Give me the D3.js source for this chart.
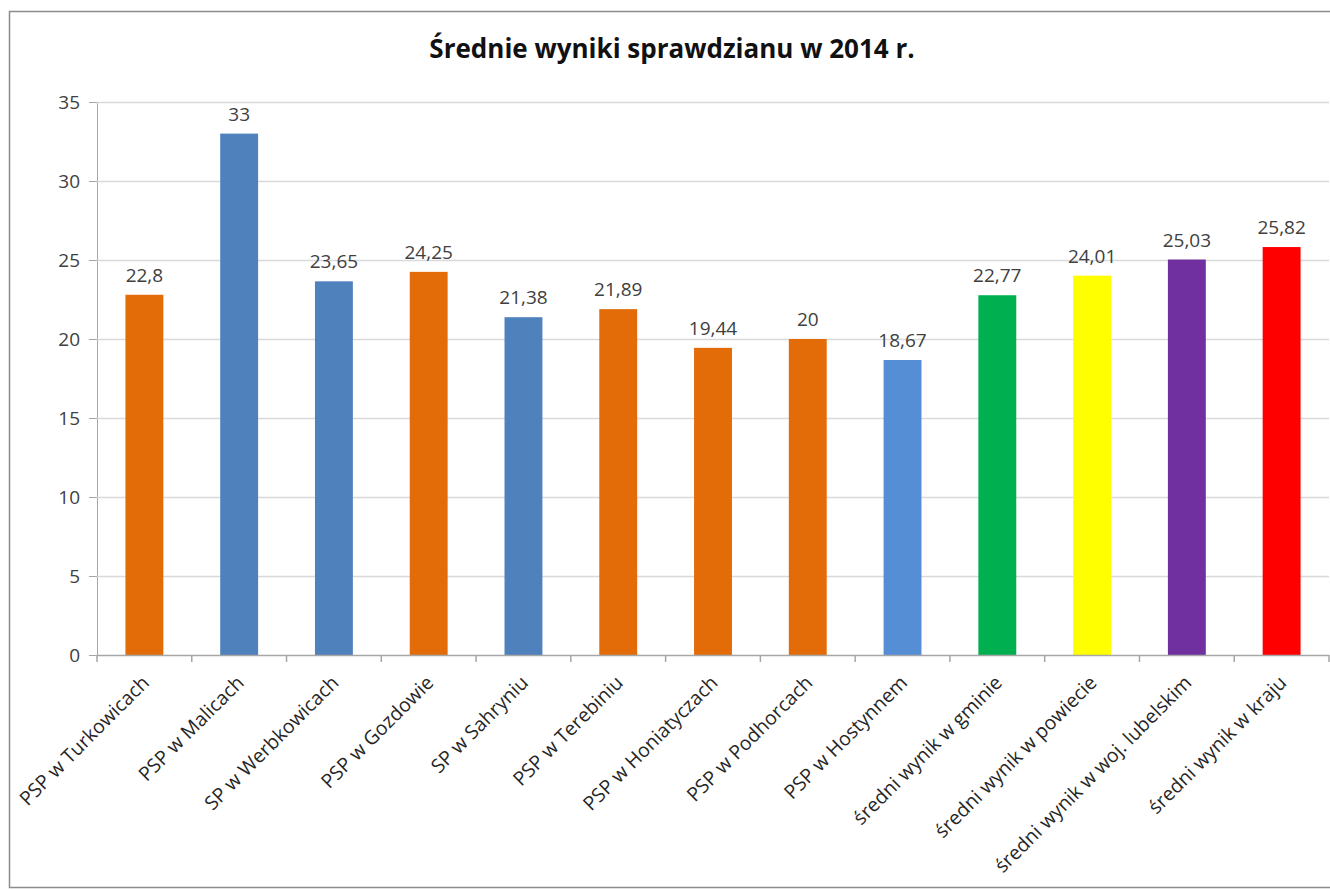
<!DOCTYPE html>
<meta charset="utf-8">
<head>
    <title>Średnie wyniki sprawdzianu w 2014 r.</title>
    <script src="https://d3js.org/d3.v7.min.js"></script>
    <style>
        body {
            margin: 0;
            background: #fff;
        }

        svg text {
            font-family: "Open Sans", "DejaVu Sans", sans-serif;
        }
    </style>
</head>
<body>
<div id="chart"></div>

<script>
    // data
    var schools = ["PSP w Turkowicach", "PSP w Malicach", "SP w Werbkowicach", "PSP w Gozdowie",
        "SP w Sahryniu", "PSP w Terebiniu", "PSP w Honiatyczach", "PSP w Podhorcach",
        "PSP w Hostynnem", "średni wynik w gminie", "średni wynik w powiecie",
        "średni wynik w woj. lubelskim", "średni wynik w kraju"];
    var scores = [22.8, 33, 23.65, 24.25, 21.38, 21.89, 19.44, 20, 18.67, 22.77, 24.01, 25.03, 25.82];
    var barColors = ["#E36C09", "#4F81BD", "#4F81BD", "#E36C09", "#4F81BD", "#E36C09", "#E36C09",
        "#E36C09", "#558ED5", "#00B050", "#FFFF00", "#7030A0", "#FF0000"];
    var yTicks = [0, 5, 10, 15, 20, 25, 30, 35];

    var width = 1330,
        height = 890;
    var margin = {top: 102, right: 1, bottom: 235, left: 97};

    var svg = d3.select("#chart")
        .append("svg")
        .attr("width", width)
        .attr("height", height);

    // chart frame
    svg.append("rect")
        .attr("x", 9.5)
        .attr("y", 11.5)
        .attr("width", width + 20)
        .attr("height", 876)
        .attr("fill", "#fff")
        .attr("stroke", "#8c8c8c")
        .attr("stroke-width", 1.5);

    svg.append("text")
        .attr("x", 672)
        .attr("y", 58)
        .attr("text-anchor", "middle")
        .style("font-weight", "bold")
        .style("font-size", "26px")
        .style("fill", "#111")
        .text("Średnie wyniki sprawdzianu w 2014 r.");

    var x = d3.scaleBand()
        .domain(schools)
        .range([margin.left, width - margin.right])
        .paddingInner(0.6)
        .paddingOuter(0.3);

    var y = d3.scaleLinear()
        .domain([0, 35])
        .range([height - margin.bottom, margin.top]);

    var plotRight = width - margin.right;

    // y axis
    var yAxis = svg.append("g")
        .attr("transform", "translate(" + margin.left + ",0)")
        .call(d3.axisLeft(y).tickValues(yTicks).tickSize(8).tickPadding(9));
    yAxis.select(".domain").attr("stroke", "#a6a6a6");
    yAxis.selectAll(".tick line").attr("stroke", "#a6a6a6");
    yAxis.selectAll(".tick text")
        .style("font-size", "19px")
        .style("fill", "#404040");

    // gridlines
    svg.append("g")
        .selectAll("line")
        .data(yTicks.filter(function (d) { return d > 0; }))
        .enter()
        .append("line")
        .attr("x1", margin.left)
        .attr("x2", plotRight)
        .attr("y1", function (d) { return y(d) + 0.5; })
        .attr("y2", function (d) { return y(d) + 0.5; })
        .attr("stroke", "#d9d9d9")
        .attr("stroke-width", 1.5);

    // bars
    svg.append("g")
        .selectAll("rect")
        .data(schools)
        .enter()
        .append("rect")
        .attr("x", function (d) { return x(d); })
        .attr("y", function (d, i) { return y(scores[i]); })
        .attr("width", x.bandwidth())
        .attr("height", function (d, i) { return y(0) - y(scores[i]); })
        .attr("fill", function (d, i) { return barColors[i]; });

    // value labels
    svg.append("g")
        .selectAll("text")
        .data(schools)
        .enter()
        .append("text")
        .attr("x", function (d) { return x(d) + x.bandwidth() / 2; })
        .attr("y", function (d, i) { return y(scores[i]) - 13; })
        .attr("text-anchor", "middle")
        .style("font-size", "19px")
        .style("fill", "#404040")
        .text(function (d, i) { return String(scores[i]).replace(".", ","); });

    // x axis, ticks on category boundaries
    var step = x.step();
    var bounds = d3.range(schools.length + 1);
    var xAxis = svg.append("g");
    xAxis.append("line")
        .attr("x1", margin.left)
        .attr("x2", plotRight)
        .attr("y1", y(0) + 0.5)
        .attr("y2", y(0) + 0.5)
        .attr("stroke", "#a6a6a6")
        .attr("stroke-width", 1.5);
    xAxis.selectAll(".bt")
        .data(bounds)
        .enter()
        .append("line")
        .attr("x1", function (d) { return margin.left + d * step; })
        .attr("x2", function (d) { return margin.left + d * step; })
        .attr("y1", y(0))
        .attr("y2", y(0) + 7)
        .attr("stroke", "#a6a6a6")
        .attr("stroke-width", 1.5);

    xAxis.selectAll(".lbl")
        .data(schools)
        .enter()
        .append("text")
        .attr("transform", function (d) {
            var cx = x(d) + x.bandwidth() / 2 + 6;
            return "translate(" + cx + "," + (y(0) + 29) + ") rotate(-45)";
        })
        .attr("text-anchor", "end")
        .style("font-size", "19.5px")
        .style("fill", "#262626")
        .text(function (d) { return d; });
</script>
</body>
